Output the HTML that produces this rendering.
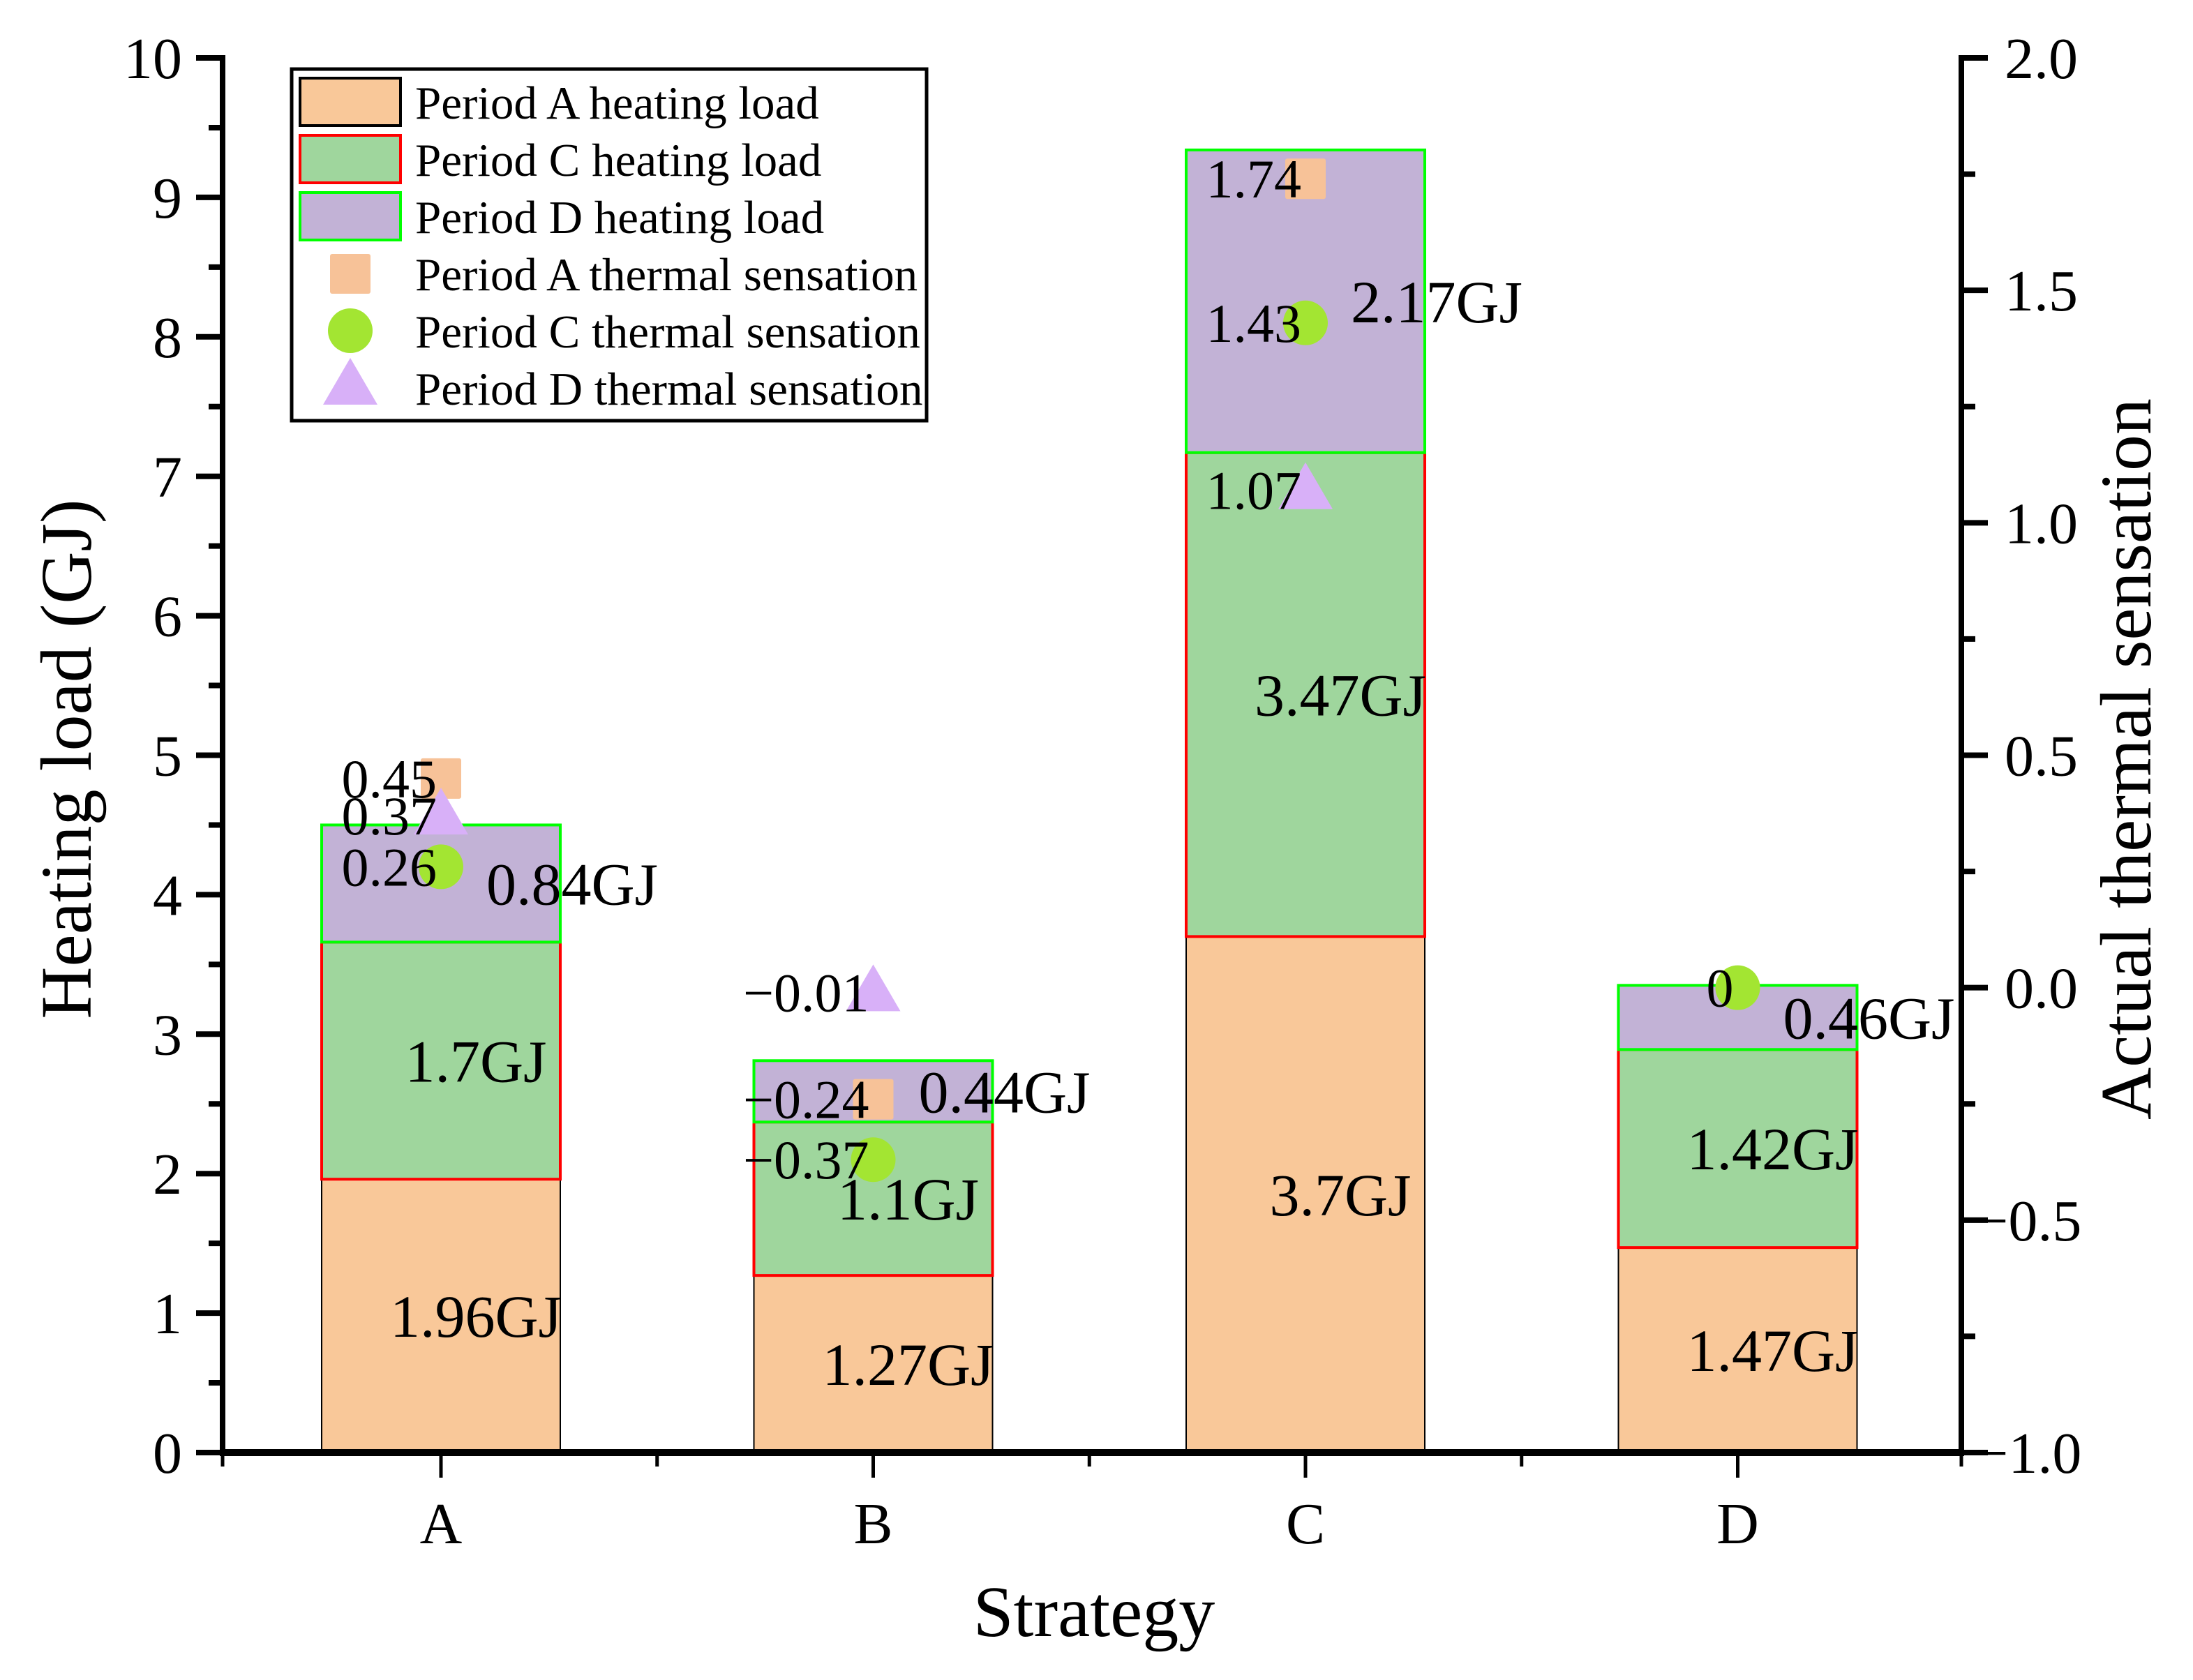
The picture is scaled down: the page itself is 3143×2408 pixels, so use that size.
<!DOCTYPE html>
<html><head><meta charset="utf-8"><style>
html,body{margin:0;padding:0;background:#fff}
svg{display:block}
text{font-family:"Liberation Serif",serif;fill:#000}
</style></head><body>
<svg id="chart" width="3143" height="2408" viewBox="0 0 3143 2408" xmlns="http://www.w3.org/2000/svg">
<g id="bars"></g>
<g id="markers"></g>
<g id="labels"></g>
<g id="axes"></g>
<text x="1568" y="2345" font-size="104" text-anchor="middle">Strategy</text>
<text transform="translate(130,1088) rotate(-90)" font-size="104" text-anchor="middle">Heating load (GJ)</text>
<text transform="translate(3082,1088) rotate(-90)" font-size="104" text-anchor="middle">Actual thermal sensation</text>
<g>
<rect x="418" y="99" width="910" height="504" fill="#fff" stroke="#000" stroke-width="5"/>
<rect x="430" y="112" width="144" height="68" fill="#F9C899" stroke="#000" stroke-width="4"/>
<rect x="430" y="194" width="144" height="68" fill="#9FD69D" stroke="#f00" stroke-width="4"/>
<rect x="430" y="276" width="144" height="68" fill="#C2B2D6" stroke="#0f0" stroke-width="4"/>
<rect x="473" y="364" width="58" height="57" fill="#F7C298" rx="3"/>
<circle cx="502" cy="474" r="32" fill="#A3E532"/>
<polygon points="502,513 541,580 463,580" fill="#D8B0F8"/>
<text font-size="67" x="595" y="170">Period A heating load</text>
<text font-size="67" x="595" y="252">Period C heating load</text>
<text font-size="67" x="595" y="334">Period D heating load</text>
<text font-size="67" x="595" y="416">Period A thermal sensation</text>
<text font-size="67" x="595" y="498">Period C thermal sensation</text>
<text font-size="67" x="595" y="580">Period D thermal sensation</text>
</g>
</svg>
<script>
const categories = ["A","B","C","D"];
const loadA = [1.96,1.27,3.7,1.47];
const loadC = [1.7,1.1,3.47,1.42];
const loadD = [0.84,0.44,2.17,0.46];
const sensA = [0.45,-0.24,1.74,null];
const sensC = [0.26,-0.37,1.43,0];
const sensD = [0.37,-0.01,1.07,null];
const yTicks = ["0","1","2","3","4","5","6","7","8","9","10"];
const y2Ticks = ["\u22121.0","\u22120.5","0.0","0.5","1.0","1.5","2.0"];

const NS="http://www.w3.org/2000/svg";
const X0=319, X1=2811, Y0=2082, YT=83;
const yL=v=>Y0-(v/10)*(Y0-YT);
const yR=v=>Y0-((v+1)/3)*(Y0-YT);
const step=619.5, first=632;
const xC=i=>first+i*step;
const BW=342;
function mk(tag,parent,attrs){const e=document.createElementNS(NS,tag);for(const k in attrs)e.setAttribute(k,attrs[k]);document.getElementById(parent).appendChild(e);return e;}
function fmt(v){return v<0?"\u2212"+Math.abs(v):String(v);}

categories.forEach((c,i)=>{
  const segs=[[loadA[i],"#F9C899","#000","a"],[loadC[i],"#9FD69D","#f00","c"],[loadD[i],"#C2B2D6","#0f0","d"]];
  let base=0;
  segs.forEach((s,j)=>{
    const top=base+s[0];
    const r=mk("rect","bars",{x:xC(i)-BW/2,y:yL(top),width:BW,height:yL(base)-yL(top),fill:s[1],stroke:s[2],"stroke-width":j==0?2:4});
    
    
    const mid=(base+top)/2;
    const t=mk("text","labels",{x:xC(i)+(j==2?188:50),y:yL(mid)+30,"font-size":86,"text-anchor":"middle"});
    t.textContent=s[0]+"GJ";
    
    
    base=top;
  });
});
function lbl(v,i,key){
  const t=mk("text","labels",{x:xC(i)-6,y:yR(v)+27,"font-size":78,"text-anchor":"end"});
  t.textContent=fmt(v);
  
  
}
categories.forEach((c,i)=>{
  if(sensA[i]!=null){const m=mk("rect","markers",{x:xC(i)-29,y:yR(sensA[i])-29,width:58,height:58,rx:3,fill:"#F7C298"});
    
    }
  if(sensD[i]!=null){const y=yR(sensD[i]);const m=mk("polygon","markers",{points:`${xC(i)},${y-40} ${xC(i)+39},${y+27} ${xC(i)-39},${y+27}`,fill:"#D8B0F8"});
    
    }
  if(sensC[i]!=null){const m=mk("circle","markers",{cx:xC(i),cy:yR(sensC[i]),r:32,fill:"#A3E532"});
    
    }
});
categories.forEach((c,i)=>{
  if(sensA[i]!=null)lbl(sensA[i],i,"a");
  if(sensD[i]!=null)lbl(sensD[i],i,"d");
  if(sensC[i]!=null)lbl(sensC[i],i,"c");
});
const ax=mk("g","axes",{stroke:"#000","stroke-width":8,fill:"none"});
function line(x1,y1,x2,y2,w,name){const l=document.createElementNS(NS,"line");l.setAttribute("x1",x1);l.setAttribute("y1",y1);l.setAttribute("x2",x2);l.setAttribute("y2",y2);l.setAttribute("stroke","#000");l.setAttribute("stroke-width",w);
  
  
  ax.appendChild(l);}
line(X0,YT-4,X0,Y0+4,8,'y-axis-line');
line(X1,YT-4,X1,Y0+4,8,'y2-axis-line');
line(X0-4,Y0,X1+4,Y0,10,'x-axis-line');
yTicks.forEach((t,k)=>{
  const y=yL(k);line(X0-38,y,X0,y,8,'y-tick');
  if(k<10)line(X0-20,yL(k+0.5),X0,yL(k+0.5),8,'y-minor-tick');
  const tx=mk("text","axes",{x:X0-58,y:y+29,"font-size":84,"text-anchor":"end"});tx.textContent=t;
  
  
});
y2Ticks.forEach((t,k)=>{
  const v=-1+k*0.5;const y=yR(v);line(X1,y,X1+38,y,8,'y2-tick');
  if(k<6)line(X1,yR(v+0.25),X1+20,yR(v+0.25),8,'y2-minor-tick');
  const tx=mk("text","axes",{x:X1+20,y:y+29,"font-size":84,"text-anchor":"start"});tx.textContent=t;
  if(!t.startsWith("\u2212"))tx.setAttribute("x",X1+62);
  
  
});
categories.forEach((c,i)=>{
  line(xC(i),Y0,xC(i),Y0+36,5,'x-tick');
  const tx=mk("text","axes",{x:xC(i),y:2212,"font-size":84,"text-anchor":"middle"});tx.textContent=c;
  
  
});
[X0,xC(0)+step/2,xC(1)+step/2,xC(2)+step/2,X1].forEach(x=>line(x,Y0,x,Y0+20,5,'x-minor-tick'));
</script>
</body></html>
